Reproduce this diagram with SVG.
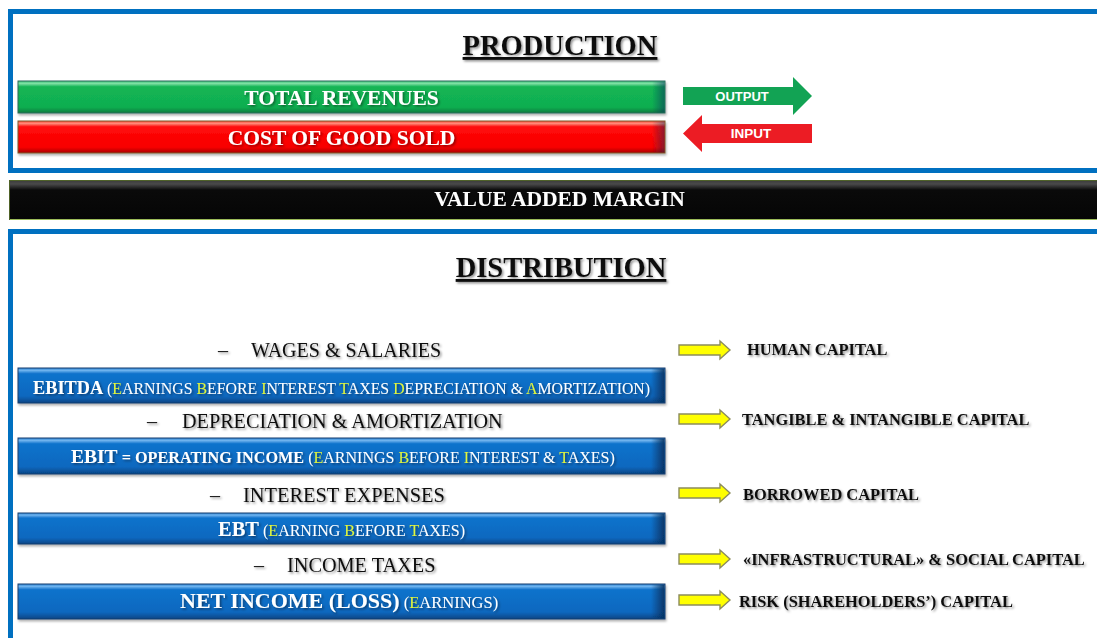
<svg xmlns="http://www.w3.org/2000/svg" width="1097" height="638" viewBox="0 0 1097 638">
  <style>
    .frame { fill: #ffffff; stroke: #0070C0; stroke-width: 5; }
    .serif { font-family: "Liberation Serif", "Times New Roman", serif; }
    .sans { font-family: "Liberation Sans", Arial, sans-serif; font-weight: bold; }
    .title { font-size: 28.5px; font-weight: bold; fill: #111; text-decoration: underline; }
    .barlabel { fill: #ffffff; font-weight: bold; }
    .row { font-size: 20px; fill: #111; }
    .cap { font-size: 16.4px; font-weight: bold; fill: #111; }
    .hl { fill: #E2F53C; }
    .blue { fill: url(#gBlue); stroke: #1B3F6E; stroke-width: 1; }
    .yarrow { fill: #FFFF00; stroke: #8C8C5C; stroke-width: 1.4; stroke-linejoin: miter; }
    .edge { fill: url(#gEdge); }
  </style>
  <defs>
    <filter id="shadow" x="-5%" y="-30%" width="110%" height="160%">
      <feDropShadow dx="1.5" dy="1.5" stdDeviation="1" flood-color="#000" flood-opacity="0.45"/>
    </filter>
    <filter id="barShadow" x="-2%" y="-20%" width="104%" height="150%">
      <feDropShadow dx="1" dy="2" stdDeviation="1.2" flood-color="#000" flood-opacity="0.3"/>
    </filter>
    <linearGradient id="gBlue" x1="0" y1="0" x2="0" y2="1">
      <stop offset="0" stop-color="#2D86D6"/>
      <stop offset="0.07" stop-color="#6FB3EE"/>
      <stop offset="0.16" stop-color="#1173CC"/>
      <stop offset="0.8" stop-color="#0A68BF"/>
      <stop offset="1" stop-color="#064585"/>
    </linearGradient>
    <linearGradient id="gEdge" x1="0" y1="0" x2="1" y2="0">
      <stop offset="0" stop-color="#06305E" stop-opacity="0"/>
      <stop offset="1" stop-color="#06305E" stop-opacity="0.9"/>
    </linearGradient>
    <linearGradient id="gGreen" x1="0" y1="0" x2="0" y2="1">
      <stop offset="0" stop-color="#3FC57A"/>
      <stop offset="0.08" stop-color="#7FE0A5"/>
      <stop offset="0.18" stop-color="#13B554"/>
      <stop offset="0.82" stop-color="#10AE50"/>
      <stop offset="1" stop-color="#0A7A3E"/>
    </linearGradient>
    <linearGradient id="gRed" x1="0" y1="0" x2="0" y2="1">
      <stop offset="0" stop-color="#FF4A3A"/>
      <stop offset="0.08" stop-color="#FF8A78"/>
      <stop offset="0.18" stop-color="#FF0A0A"/>
      <stop offset="0.82" stop-color="#F80000"/>
      <stop offset="1" stop-color="#A80000"/>
    </linearGradient>
    <linearGradient id="gBlack" x1="0" y1="0" x2="0" y2="1">
      <stop offset="0" stop-color="#3A3A3A"/>
      <stop offset="0.1" stop-color="#4A4A4A"/>
      <stop offset="0.25" stop-color="#0A0A0A"/>
      <stop offset="1" stop-color="#050505"/>
    </linearGradient>
  </defs>

  <!-- production frame -->
  <rect id="production-frame" class="frame" x="10.5" y="11.5" width="1100" height="159"/>
  <text class="serif title" x="560" y="55" text-anchor="middle" filter="url(#shadow)">PRODUCTION</text>

  <g id="total-revenues" filter="url(#barShadow)">
    <rect x="18" y="81" width="647" height="32" fill="url(#gGreen)" stroke="#2E6B5C" stroke-width="1"/>
    <rect class="edge" x="652" y="81.5" width="12.5" height="31" opacity="0.6"/>
    <text class="serif barlabel" x="341.5" y="105" font-size="21.5" text-anchor="middle" filter="url(#shadow)">TOTAL REVENUES</text>
  </g>

  <g id="cost-of-good-sold" filter="url(#barShadow)">
    <rect x="18" y="121" width="647" height="32" fill="url(#gRed)" stroke="#7A5A2A" stroke-width="1"/>
    <rect class="edge" x="652" y="121.5" width="12.5" height="31" opacity="0.5"/>
    <text class="serif barlabel" x="341.5" y="145" font-size="21.5" text-anchor="middle" filter="url(#shadow)">COST OF GOOD SOLD</text>
  </g>

  <g id="output">
    <polygon points="683,87 793,87 793,77 812,96 793,115 793,105 683,105" fill="#12A354"/>
    <text class="sans" x="742" y="101" font-size="13" fill="#ffffff" text-anchor="middle">OUTPUT</text>
  </g>

  <g id="input">
    <polygon points="812,124 702,124 702,115 683,133.5 702,152 702,143 812,143" fill="#EC1C24"/>
    <text class="sans" x="751" y="138" font-size="13.5" fill="#ffffff" text-anchor="middle">INPUT</text>
  </g>

  <!-- value added margin band -->
  <g id="value-added-margin">
    <rect x="9" y="180" width="1100" height="40" fill="url(#gBlack)"/>
    <line x1="9" y1="180.5" x2="1097" y2="180.5" stroke="#4F6228" stroke-width="1.2"/>
    <line x1="9" y1="219.5" x2="1097" y2="219.5" stroke="#9BBB59" stroke-width="1.2"/>
    <line x1="9.5" y1="180" x2="9.5" y2="220" stroke="#4F6228" stroke-width="1"/>
    <text class="serif barlabel" x="559.5" y="206" font-size="21.5" text-anchor="middle" filter="url(#shadow)">VALUE ADDED MARGIN</text>
  </g>

  <!-- distribution frame -->
  <rect id="distribution-frame" class="frame" x="10.5" y="231.5" width="1100" height="430"/>
  <text class="serif title" x="561" y="277" text-anchor="middle" filter="url(#shadow)">DISTRIBUTION</text>

  <!-- deductions -->
  <g id="wages" class="serif row" filter="url(#shadow)">
    <text x="218" y="357">–</text>
    <text x="251" y="357">WAGES &amp; SALARIES</text>
  </g>
  <g id="depreciation" class="serif row" filter="url(#shadow)">
    <text x="147" y="428">–</text>
    <text x="182" y="428" font-size="20.2">DEPRECIATION &amp; AMORTIZATION</text>
  </g>
  <g id="interest" class="serif row" filter="url(#shadow)">
    <text x="210" y="502">–</text>
    <text x="243" y="502" font-size="20.4">INTEREST EXPENSES</text>
  </g>
  <g id="income-taxes" class="serif row" filter="url(#shadow)">
    <text x="254" y="572">–</text>
    <text x="287" y="572" font-size="20.3">INCOME TAXES</text>
  </g>

  <!-- result bars -->
  <g id="ebitda" filter="url(#barShadow)">
    <rect class="blue" x="18" y="368" width="647" height="35"/>
    <rect class="edge" x="651" y="368.5" width="13.5" height="34"/>
    <text class="serif" x="33" y="394" fill="#ffffff" filter="url(#shadow)"><tspan font-weight="bold" font-size="18.3">EBITDA</tspan><tspan font-size="15.85"> (<tspan class="hl">E</tspan>ARNINGS <tspan class="hl">B</tspan>EFORE <tspan class="hl">I</tspan>NTEREST <tspan class="hl">T</tspan>AXES <tspan class="hl">D</tspan>EPRECIATION &amp; <tspan class="hl">A</tspan>MORTIZATION)</tspan></text>
  </g>

  <g id="ebit" filter="url(#barShadow)">
    <rect class="blue" x="18" y="438" width="647" height="36"/>
    <rect class="edge" x="651" y="438.5" width="13.5" height="35"/>
    <text class="serif" x="71" y="463" fill="#ffffff" filter="url(#shadow)"><tspan font-weight="bold" font-size="19.5">EBIT</tspan><tspan font-weight="bold" font-size="16.2"> = OPERATING INCOME</tspan><tspan font-size="16"> (<tspan class="hl">E</tspan>ARNINGS <tspan class="hl">B</tspan>EFORE <tspan class="hl">I</tspan>NTEREST &amp; <tspan class="hl">T</tspan>AXES)</tspan></text>
  </g>

  <g id="ebt" filter="url(#barShadow)">
    <rect class="blue" x="18" y="513" width="647" height="31"/>
    <rect class="edge" x="651" y="513.5" width="13.5" height="30"/>
    <text class="serif" x="218" y="536" fill="#ffffff" filter="url(#shadow)"><tspan font-weight="bold" font-size="20.5">EBT</tspan><tspan font-size="16"> (<tspan class="hl">E</tspan>ARNING <tspan class="hl">B</tspan>EFORE <tspan class="hl">T</tspan>AXES)</tspan></text>
  </g>

  <g id="net-income" filter="url(#barShadow)">
    <rect class="blue" x="18" y="584" width="647" height="35"/>
    <rect class="edge" x="651" y="584.5" width="13.5" height="34"/>
    <text class="serif" x="180" y="608" fill="#ffffff" filter="url(#shadow)"><tspan font-weight="bold" font-size="22">NET INCOME (LOSS)</tspan><tspan font-size="16.5"> (<tspan class="hl">E</tspan>ARNINGS)</tspan></text>
  </g>

  <!-- capital recipients -->
  <g id="human-capital"><text class="serif cap" x="747" y="355" filter="url(#shadow)">HUMAN CAPITAL</text></g>
  <g id="tangible-capital"><text class="serif cap" x="742" y="425" filter="url(#shadow)">TANGIBLE &amp; INTANGIBLE CAPITAL</text></g>
  <g id="borrowed-capital"><text class="serif cap" x="743" y="500" filter="url(#shadow)">BORROWED CAPITAL</text></g>
  <g id="social-capital"><text class="serif cap" x="743" y="565" filter="url(#shadow)">«INFRASTRUCTURAL» &amp; SOCIAL CAPITAL</text></g>
  <g id="risk-capital"><text class="serif cap" x="739" y="607" filter="url(#shadow)">RISK (SHAREHOLDERS’) CAPITAL</text></g>

  <!-- connectors: deduction rows to recipients -->
  <g id="connectors">
    <polygon class="yarrow" points="679,345 720,345 720,341 730,350 720,359 720,355 679,355"/>
    <polygon class="yarrow" points="679,414 720,414 720,410 730,419 720,428 720,424 679,424"/>
    <polygon class="yarrow" points="679,488 720,488 720,484 730,493 720,502 720,498 679,498"/>
    <polygon class="yarrow" points="679,554 720,554 720,550 730,559 720,568 720,564 679,564"/>
    <polygon class="yarrow" points="679,595 720,595 720,591 730,600 720,609 720,605 679,605"/>
  </g>
</svg>
